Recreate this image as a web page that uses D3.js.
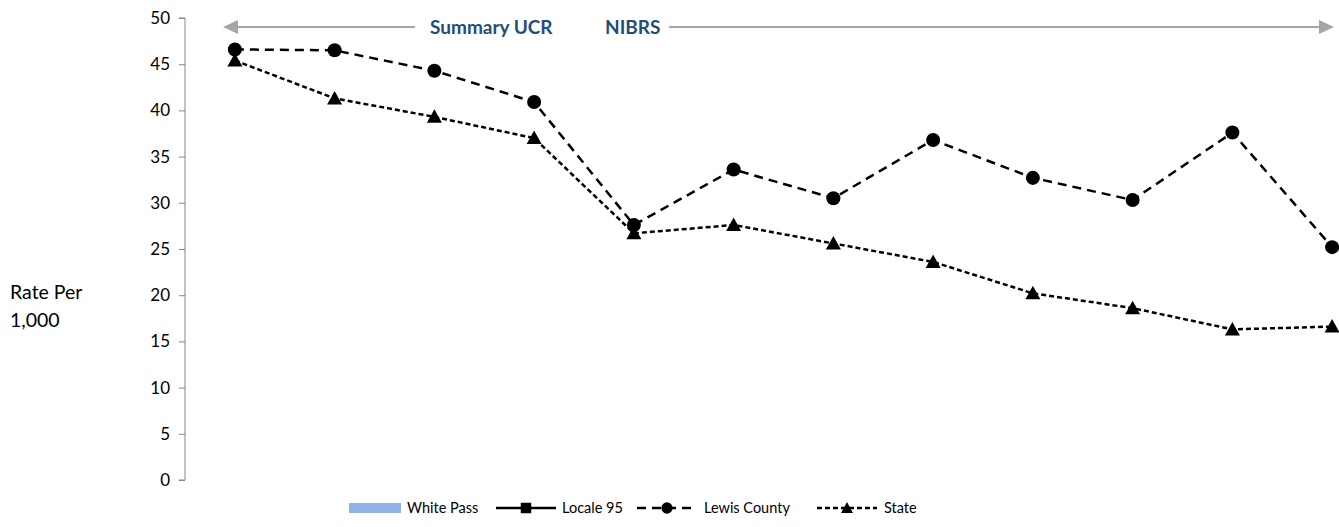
<!DOCTYPE html>
<html>
<head>
<meta charset="utf-8">
<script src="https://cdn.jsdelivr.net/npm/d3@7"></script>
<style>
  html, body { margin: 0; padding: 0; background: #fff; }
  svg { display: block; }
  text { font-family: Lato, "Open Sans", sans-serif; }
</style>
</head>
<body>
<svg id="chart" width="1339" height="527"></svg>
<script>
// ---- data ----
const categories = ["2009", "2010", "2011", "2012", "2013", "2014", "2015", "2016", "2017", "2018", "2019", "2020"];
const whitePass = [null, null, null, null, null, null, null, null, null, null, null, null];
const locale95 = [null, null, null, null, null, null, null, null, null, null, null, null];
const lewisCounty = [46.6, 46.5, 44.3, 40.9, 27.6, 33.6, 30.5, 36.8, 32.7, 30.3, 37.6, 25.2];
const stateRate = [45.4, 41.3, 39.3, 37.0, 26.7, 27.6, 25.6, 23.6, 20.2, 18.6, 16.3, 16.6];
const yTicks = [0, 5, 10, 15, 20, 25, 30, 35, 40, 45, 50];
const legendLabels = ["White Pass", "Locale 95", "Lewis County", "State"];
const periodLabels = ["Summary UCR", "NIBRS"];
const yTitle = ["Rate Per", "1,000"];

// ---- layout ----
const svg = d3.select("#chart");
const plotLeft = 185, plotTop = 18, plotBottom = 480;
const bandW = 99.75;
const x = d3.scaleBand().domain(categories)
  .range([plotLeft, plotLeft + bandW * categories.length])
  .paddingInner(0.3).paddingOuter(0.15);
const xc = d => x(d) + x.bandwidth() / 2;
const y = d3.scaleLinear().domain([0, 50]).range([plotBottom, plotTop]);

// y axis
const yAxis = d3.axisLeft(y).tickValues(yTicks).tickSize(6).tickPadding(9);
const gy = svg.append("g").attr("transform", `translate(${plotLeft},0)`).call(yAxis);
gy.select(".domain").attr("stroke", "#868686").attr("stroke-width", 1).attr("d", `M-6,${plotTop}H0V${plotBottom}H-6`);
gy.selectAll(".tick line").attr("stroke", "#868686");
gy.selectAll(".tick text").attr("font-size", 17).attr("fill", "#000").style("font-family", "Lato, sans-serif");

// y title
svg.append("text").attr("x", 10).attr("y", 299).attr("font-size", 19.5).text(yTitle[0]);
svg.append("text").attr("x", 10).attr("y", 327).attr("font-size", 19.5).text(yTitle[1]);

// white pass bars (no visible values)
svg.append("g").selectAll("rect").data(categories.map((c, i) => ({c, v: whitePass[i]})).filter(d => d.v != null))
  .join("rect").attr("x", d => x(d.c)).attr("width", x.bandwidth()).attr("y", d => y(d.v)).attr("height", d => y(0) - y(d.v)).attr("fill", "#8EB4E3");

// lines
function drawSeries(vals, dash, marker) {
  const pts = categories.map((c, i) => ({c, v: vals[i]})).filter(d => d.v != null);
  const line = d3.line().x(d => xc(d.c)).y(d => y(d.v));
  svg.append("path").datum(pts).attr("d", line).attr("fill", "none").attr("stroke", "#000")
    .attr("stroke-width", 2.5).attr("stroke-dasharray", dash);
  const g = svg.append("g");
  g.selectAll("path").data(pts).join("path")
    .attr("transform", d => `translate(${xc(d.c)},${y(d.v)})`)
    .attr("d", marker).attr("fill", "#000");
}
const circleM = d3.symbol().type(d3.symbolCircle).size(155)();
const triM = "M0,-7.5L7.5,6L-7.5,6Z";
const squareM = d3.symbol().type(d3.symbolSquare).size(110)();
drawSeries(locale95, null, squareM);
drawSeries(lewisCounty, "9,6", circleM);
drawSeries(stateRate, "5,3", triM);

// period annotation
const annY = 27;
const gray = "#A6A6A6";
svg.append("line").attr("x1", 236).attr("x2", 415).attr("y1", annY).attr("y2", annY).attr("stroke", gray).attr("stroke-width", 2);
svg.append("path").attr("d", `M223,${annY}L238,${annY-7}L238,${annY+7}Z`).attr("fill", gray);
svg.append("line").attr("x1", 669).attr("x2", 1320).attr("y1", annY).attr("y2", annY).attr("stroke", gray).attr("stroke-width", 2);
svg.append("path").attr("d", `M1334,${annY}L1319,${annY-7}L1319,${annY+7}Z`).attr("fill", gray);
svg.append("text").attr("x", 430).attr("y", annY + 7).attr("font-size", 19).attr("font-weight", "bold").attr("fill", "#1F4E79").text(periodLabels[0]);
svg.append("text").attr("x", 605).attr("y", annY + 7).attr("font-size", 19).attr("font-weight", "bold").attr("fill", "#1F4E79").text(periodLabels[1]);

// legend
const ly = 508;
const lg = svg.append("g").attr("font-size", 14.5);
const legX = [349, 496, 637, 817];
// White Pass swatch
lg.append("rect").attr("x", legX[0]).attr("y", ly - 5).attr("width", 52).attr("height", 10).attr("fill", "#8EB4E3");
lg.append("text").attr("x", legX[0] + 58).attr("y", ly + 5).text(legendLabels[0]);
// Locale 95
lg.append("line").attr("x1", legX[1]).attr("x2", legX[1] + 60).attr("y1", ly).attr("y2", ly).attr("stroke", "#000").attr("stroke-width", 2.5);
lg.append("path").attr("transform", `translate(${legX[1] + 30},${ly})`).attr("d", squareM);
lg.append("text").attr("x", legX[1] + 66).attr("y", ly + 5).text(legendLabels[1]);
// Lewis County
lg.append("line").attr("x1", legX[2]).attr("x2", legX[2] + 60).attr("y1", ly).attr("y2", ly).attr("stroke", "#000").attr("stroke-width", 2.5).attr("stroke-dasharray", "9,6");
lg.append("path").attr("transform", `translate(${legX[2] + 30},${ly})`).attr("d", d3.symbol().type(d3.symbolCircle).size(100)());
lg.append("text").attr("x", legX[2] + 67).attr("y", ly + 5).text(legendLabels[2]);
// State
lg.append("line").attr("x1", legX[3]).attr("x2", legX[3] + 60).attr("y1", ly).attr("y2", ly).attr("stroke", "#000").attr("stroke-width", 2.5).attr("stroke-dasharray", "5,3");
lg.append("path").attr("transform", `translate(${legX[3] + 30},${ly})`).attr("d", "M0,-6L6,5L-6,5Z");
lg.append("text").attr("x", legX[3] + 67).attr("y", ly + 5).text(legendLabels[3]);
</script>
</body>
</html>
